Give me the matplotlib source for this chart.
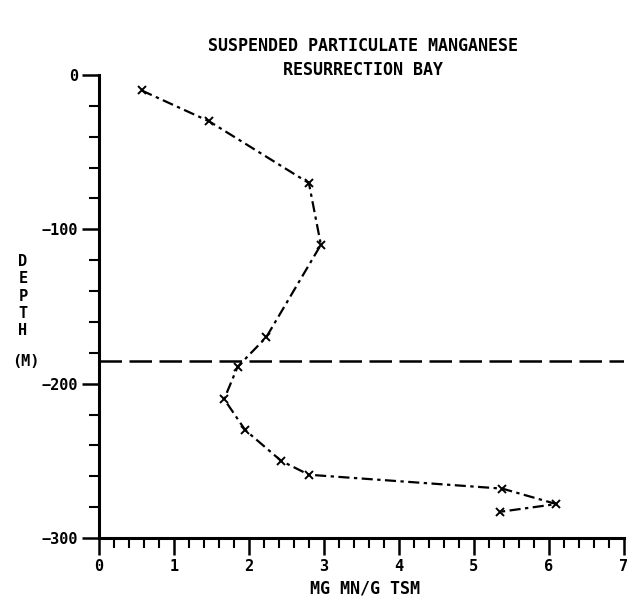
import matplotlib.pyplot as plt
from matplotlib.ticker import MultipleLocator

# Mn concentration (mg Mn / g TSM) vs depth (m)
mn = [0.57, 1.47, 2.8, 2.96, 2.23, 1.85, 1.67, 1.95, 2.43, 2.8, 5.38, 6.1, 5.35]
depth = [-10, -30, -70, -110, -170, -189, -210, -230, -250, -259, -268, -278, -283]
line_depth = -185

plt.rcParams['font.family'] = 'DejaVu Sans Mono'
plt.rcParams['font.weight'] = 'bold'

fig = plt.figure(figsize=(6.34, 6.10), dpi=100)
ax = fig.add_axes([0.156, 0.118, 0.828, 0.759])

ax.plot(mn, depth, color='black', lw=1.6, dashes=[5, 2, 1.5, 2],
        marker='x', ms=6, mew=1.4, mec='black')
ax.axhline(line_depth, color='black', lw=1.8, dashes=[9, 3])

ax.set_xlim(0, 7)
ax.set_ylim(-300, 0)
ax.xaxis.set_major_locator(MultipleLocator(1))
ax.xaxis.set_minor_locator(MultipleLocator(0.2))
ax.yaxis.set_major_locator(MultipleLocator(100))
ax.yaxis.set_minor_locator(MultipleLocator(20))

for s in ['top', 'right']:
    ax.spines[s].set_visible(False)
for s in ['left', 'bottom']:
    ax.spines[s].set_linewidth(2.2)

ax.tick_params(which='major', length=12, width=1.8, labelsize=11, direction='out', pad=3)
ax.tick_params(which='minor', length=7, width=1.5, direction='out')

fig.text(0.572, 0.925, 'SUSPENDED PARTICULATE MANGANESE', ha='center', va='center', fontsize=12)
fig.text(0.572, 0.885, 'RESURRECTION BAY', ha='center', va='center', fontsize=12)
fig.text(0.575, 0.036, 'MG MN/G TSM', ha='center', va='center', fontsize=12)

# stacked vertical label
for i, ch in enumerate('DEPTH'):
    fig.text(0.036, 0.571 - i * 0.0283, ch, ha='center', va='center', fontsize=11)
fig.text(0.041, 0.407, '(M)', ha='center', va='center', fontsize=11)

fig.savefig('out.png', dpi=100, facecolor='white')
